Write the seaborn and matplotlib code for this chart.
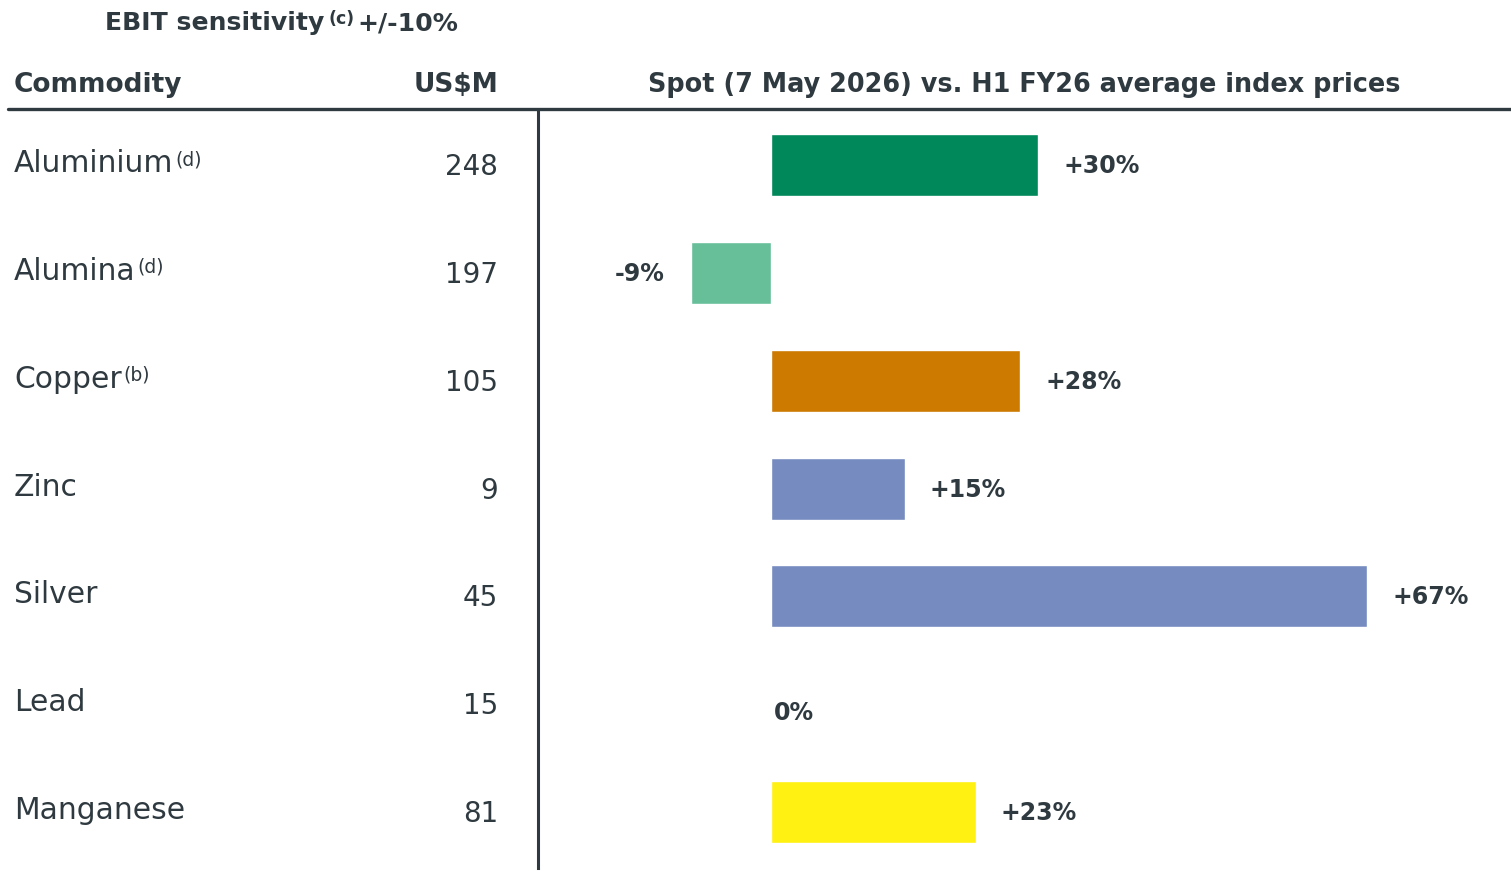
import matplotlib
matplotlib.use("Agg")
import matplotlib.pyplot as plt
import matplotlib.transforms as mtransforms
from matplotlib.lines import Line2D
import pandas as pd
import seaborn as sns

# chart data
commodities = ["Aluminium", "Alumina", "Copper", "Zinc", "Silver", "Lead", "Manganese"]
footnotes = ["(d)", "(d)", "(b)", "", "", "", ""]
ebit_usdm = [248, 197, 105, 9, 45, 15, 81]
spot_change = [30, -9, 28, 15, 67, 0, 23]
bar_colors = ["#00875a", "#66bf99", "#cc7a00", "#768cc0", "#768cc0", "#768cc0", "#fff111"]

TEXT = "#2f3a40"
W, H = 1511, 871
PIX = mtransforms.IdentityTransform()

sns.set_style("white")
plt.rcParams["font.family"] = ["DejaVu Sans"]

df = pd.DataFrame({"Commodity": commodities, "Change": spot_change})
palette = dict(zip(commodities, bar_colors))

fig = plt.figure(figsize=(W / 100, H / 100), dpi=100)
ax = fig.add_axes([538 / W, 0, (W - 538) / W, (H - 110) / H])
renderer = fig.canvas.get_renderer()

sns.barplot(data=df, y="Commodity", x="Change", hue="Commodity", palette=palette,
            order=commodities, orient="h", width=0.574, saturation=1, legend=False, ax=ax)

px_per_pct = 8.9
ax.set_xlim((538 - 771) / px_per_pct, (W - 771) / px_per_pct)
ax.set_ylim(6.546, -0.51)
ax.set_xticks([])
ax.set_yticks([])
ax.set_xlabel("")
ax.set_ylabel("")
for side in ["top", "right", "bottom"]:
    ax.spines[side].set_visible(False)
ax.spines["left"].set_color(TEXT)
ax.spines["left"].set_linewidth(2.2)
ax.spines["left"].set_bounds(6.518, -0.51)


def text_with_sup(x, y, main, sup, size, sup_size, weight="normal", rise=7, after="", gap=2):
    """Write main text on a baseline (pixel coords) with a raised footnote after it."""
    t = fig.text(x, y, main, transform=PIX, ha="left", va="baseline",
                 fontsize=size, fontweight=weight, color=TEXT)
    if not sup:
        return
    x1 = t.get_window_extent(renderer).x1 + gap
    s = fig.text(x1, y + rise, sup, transform=PIX, ha="left", va="baseline",
                 fontsize=sup_size, fontweight=weight, color=TEXT)
    if after:
        x2 = s.get_window_extent(renderer).x1 + 3
        fig.text(x2, y, after, transform=PIX, ha="left", va="baseline",
                 fontsize=size, fontweight=weight, color=TEXT)


# value labels next to each bar
for i, v in enumerate(spot_change):
    label = f"+{v}%" if v > 0 else f"{v}%"
    if v < 0:
        xy_off, ha = (-26, -8), "right"
    elif v == 0:
        xy_off, ha = (3, -16), "left"
    else:
        xy_off, ha = (25, -8), "left"
    ax.annotate(label, (v, i), xytext=xy_off, textcoords="offset pixels",
                ha=ha, va="baseline", fontsize=17, fontweight="bold", color=TEXT)

# left-hand table: commodity names and EBIT sensitivities
for i, (name, note, val) in enumerate(zip(commodities, footnotes, ebit_usdm)):
    y_pix = ax.transData.transform((0, i))[1]
    text_with_sup(14, y_pix - 7, name, note, 21.4, 13.5, rise=7)
    fig.text(498, y_pix - 10, str(val), transform=PIX, ha="right", va="baseline",
             fontsize=20, color=TEXT)

# headers
text_with_sup(105, H - 30, "EBIT sensitivity", "(c)", 18.1, 12.5, weight="bold",
              rise=6, after="+/-10%", gap=4)

fig.text(14, H - 92, "Commodity", transform=PIX, ha="left", va="baseline",
         fontsize=19, fontweight="bold", color=TEXT)
fig.text(498, H - 92, "US$M", transform=PIX, ha="right", va="baseline",
         fontsize=19, fontweight="bold", color=TEXT)
spot = fig.text(1024.5, H - 92, "Spot (7 May 2026) vs. H1 FY26 average index prices",
                transform=PIX, ha="center", va="baseline", fontsize=17, fontweight="bold",
                color=TEXT)
# fit the long header to the width it takes in the source layout
spot.set_fontsize(17 * 753 / spot.get_window_extent(renderer).width)

fig.add_artist(Line2D([8 / W, 1], [1 - 109 / H, 1 - 109 / H], transform=fig.transFigure,
                      color=TEXT, linewidth=2.4))

fig.savefig("out.png", dpi=100)
